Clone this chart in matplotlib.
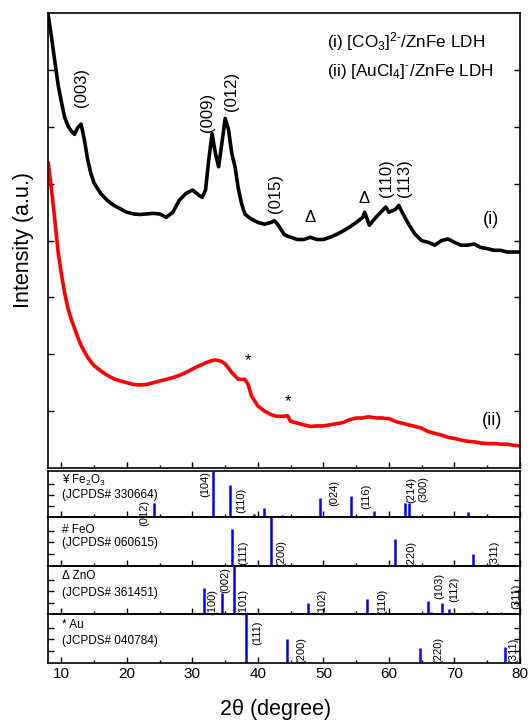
import numpy as np
import matplotlib
matplotlib.use("Agg")
import matplotlib.pyplot as plt
from matplotlib.ticker import MultipleLocator

plt.rcParams["font.family"] = ["Liberation Sans", "DejaVu Sans"]
plt.rcParams["mathtext.fontset"] = "custom"
plt.rcParams["mathtext.rm"] = "Liberation Sans"
plt.rcParams["mathtext.it"] = "Liberation Sans:italic"
plt.rcParams["mathtext.default"] = "regular"

# ---- XRD traces (2theta in degree, intensity in a.u.) ----
two_theta = [8.0, 8.5, 9.0, 9.5, 10.0, 10.5, 11.0, 11.5, 12.0, 12.5, 13.0, 13.5,
             14.0, 14.5, 15.0, 16, 17, 18, 19, 20, 21, 22, 23, 24, 25, 26, 27, 28,
             29, 30, 31, 31.5, 32, 32.5, 33, 33.5, 34, 34.5, 35, 35.5, 36, 36.5,
             37, 37.5, 38, 38.5, 39, 40, 41, 42, 42.5, 43, 44, 44.5, 45, 46, 47,
             48, 49, 50, 51, 52, 53, 54, 55, 56, 56.3, 57, 58, 59, 59.5, 60, 61,
             61.5, 62, 63, 64, 65, 66, 67, 68, 69, 70, 71, 72, 73, 74, 75, 76,
             77, 78, 79, 80]

ldh_co3 = [7.96, 7.57, 7.15, 6.74, 6.44, 6.17, 6.02, 5.93, 5.87, 5.99, 6.05, 5.78,
           5.43, 5.18, 5.01, 4.83, 4.71, 4.62, 4.56, 4.50, 4.47, 4.46, 4.47, 4.48,
           4.47, 4.41, 4.50, 4.71, 4.83, 4.89, 4.80, 4.76, 4.89, 5.43, 5.88, 5.54,
           5.30, 5.72, 6.15, 5.96, 5.54, 5.30, 4.92, 4.65, 4.47, 4.42, 4.38, 4.32,
           4.29, 4.32, 4.35, 4.29, 4.11, 4.08, 4.06, 4.02, 4.02, 4.06, 4.02, 4.02,
           4.06, 4.11, 4.17, 4.24, 4.32, 4.41, 4.50, 4.27, 4.41, 4.53, 4.59, 4.50,
           4.55, 4.62, 4.50, 4.29, 4.11, 4.00, 3.97, 3.92, 4.00, 4.03, 3.97, 3.92,
           3.92, 3.94, 3.88, 3.86, 3.83, 3.83, 3.80, 3.80, 3.80]

ldh_aucl4 = [5.36, 4.89, 4.36, 3.80, 3.41, 3.08, 2.81, 2.62, 2.46, 2.30, 2.16, 2.05,
             1.95, 1.87, 1.80, 1.71, 1.63, 1.57, 1.53, 1.50, 1.47, 1.46, 1.47, 1.50,
             1.53, 1.56, 1.59, 1.63, 1.68, 1.74, 1.80, 1.82, 1.85, 1.87, 1.89, 1.90,
             1.89, 1.87, 1.83, 1.76, 1.68, 1.62, 1.56, 1.56, 1.56, 1.47, 1.27, 1.09,
             1.00, 0.94, 0.92, 0.91, 0.91, 0.92, 0.82, 0.79, 0.76, 0.73, 0.74, 0.74,
             0.76, 0.78, 0.80, 0.85, 0.88, 0.88, 0.89, 0.90, 0.88, 0.88, 0.87, 0.87,
             0.82, 0.80, 0.79, 0.76, 0.73, 0.70, 0.64, 0.61, 0.58, 0.54, 0.52, 0.49,
             0.47, 0.46, 0.44, 0.43, 0.43, 0.42, 0.42, 0.40, 0.39]

# ---- reference stick patterns (position, relative height %) ----
fe2o3_pos = [24.1, 33.2, 35.7, 39.4, 40.9, 43.6, 49.5, 54.2, 57.7, 62.5, 63.0, 72.1]
fe2o3_int = [30, 100, 69, 5, 20, 4, 40, 45, 12, 30, 30, 11]
fe2o3_hkl = ["(012)", "(104)", "(110)", "(024)", "(116)", "(214)", "(300)"]
fe2o3_hkl_x = [22.6, 32.0, 37.5, 51.7, 56.5, 63.4, 65.2]
fe2o3_hkl_y = [8, 71, 36, 51, 45, 58, 61]

feo_pos = [36.1, 42.0, 60.9, 72.8]
feo_int = [75, 100, 56, 24]
feo_hkl = ["(111)", "(200)", "(220)", "(311)"]
feo_hkl_x = [37.7, 43.6, 63.4, 76.1]
feo_hkl_y = [27, 27, 25, 27]

zno_pos = [31.8, 34.5, 36.3, 47.6, 56.7, 65.9, 66.4, 68.1, 69.2, 72.7, 77.1]
zno_int = [54, 44, 100, 23, 31, 28, 5, 23, 11, 4, 5]
zno_hkl = ["(100)", "(002)", "(101)", "(102)", "(110)", "(103)", "(112)", "(311)"]
zno_hkl_x = [33.1, 35.0, 37.8, 49.8, 59.0, 67.6, 70.0, 79.5]
zno_hkl_y = [26, 72, 26, 26, 26, 58, 51, 37]

au_pos = [38.2, 44.4, 64.7, 77.7]
au_int = [100, 48, 30, 33]
au_hkl = ["(111)", "(200)", "(220)", "(311)"]
au_hkl_x = [39.9, 46.6, 67.5, 79.0]
au_hkl_y = [62, 26, 26, 26]

W, H = 531, 720
fig = plt.figure(figsize=(W / 100, H / 100), dpi=100)


def rect(top, bottom, left=48.3, right=520):
    return [left / W, 1 - bottom / H, (right - left) / W, (bottom - top) / H]


def style(ax, ymax, yt):
    ax.set_xlim(8, 80)
    ax.set_ylim(0, ymax)
    ax.xaxis.set_major_locator(MultipleLocator(10))
    ax.xaxis.set_minor_locator(MultipleLocator(5))
    ax.set_yticks(yt)
    ax.tick_params(which="both", direction="in", top=False, right=True,
                   left=True, bottom=True, width=1.0, labelleft=False)
    ax.tick_params(which="major", length=4)
    ax.tick_params(which="minor", length=2.5)
    ax.tick_params(axis="y", which="minor", left=False, right=False)
    for s in ax.spines.values():
        s.set_linewidth(1.2)


# main panel
ax = fig.add_axes(rect(13.3, 468))
style(ax, 8, range(1, 8))
ax.tick_params(labelbottom=False)
ax.plot(two_theta, ldh_co3, color="black", lw=2.6)
ax.plot(two_theta, ldh_aucl4, color="red", lw=2.6)

ax.text(50.5, 7.51, r"(i) [CO$_3$]$^{2\text{-}}$/ZnFe LDH", fontsize=12.3, va="center")
ax.text(50.5, 6.98, r"(ii) [AuCl$_4$]$^{\text{-}}$/ZnFe LDH", fontsize=12.3, va="center")

peak_lbl = ["(003)", "(009)", "(012)", "(015)", "(110)", "(113)"]
peak_x = [13.0, 32.3, 36.0, 42.7, 59.6, 62.4]
peak_y = [6.70, 6.26, 6.63, 4.83, 5.10, 5.10]
for t, x, y in zip(peak_lbl, peak_x, peak_y):
    ax.text(x, y, t, rotation=90, fontsize=12, ha="center", va="center")
ax.text(48.0, 4.41, "Δ", fontsize=12, ha="center", va="center")
ax.text(56.2, 4.75, "Δ", fontsize=12, ha="center", va="center")
ax.text(38.5, 1.89, "*", fontsize=12, ha="center", va="center")
ax.text(44.6, 1.16, "*", fontsize=12, ha="center", va="center")
ax.text(75.6, 4.38, "(i)", fontsize=13, ha="center", va="center")
ax.text(75.8, 0.84, "(ii)", fontsize=13, ha="center", va="center")

panels = [
    (470.7, 516.7, "¥ Fe$_2$O$_3$", "(JCPDS# 330664)", 78, 47,
     fe2o3_pos, fe2o3_int, fe2o3_hkl, fe2o3_hkl_x, fe2o3_hkl_y),
    (516.7, 566.3, "# FeO", "(JCPDS# 060615)", 73, 46,
     feo_pos, feo_int, feo_hkl, feo_hkl_x, feo_hkl_y),
    (566.3, 614.0, "Δ ZnO", "(JCPDS# 361451)", 79, 45,
     zno_pos, zno_int, zno_hkl, zno_hkl_x, zno_hkl_y),
    (614.0, 662.7, "* Au", "(JCPDS# 040784)", 77, 45,
     au_pos, au_int, au_hkl, au_hkl_x, au_hkl_y),
]

for i, (top, bot, name, card, ny, cy, pos, inten, hkl, hx, hy) in enumerate(panels):
    a = fig.add_axes(rect(top, bot))
    a.set_facecolor("none")
    a.set_zorder(10 - i)
    style(a, 100, [24, 48, 72])
    a.vlines(pos, 0, inten, color="#0000FF", lw=1.8)
    a.text(10.15, ny, name, fontsize=8.5, va="center")
    a.text(10.15, cy, card, fontsize=8.5, va="center")
    for t, x, y in zip(hkl, hx, hy):
        a.text(x, y, t, rotation=90, fontsize=8, ha="center", va="center")
    if i < 3:
        a.tick_params(labelbottom=False)
    else:
        a.tick_params(labelbottom=True, labelsize=11, pad=3)

fig.text(24 / W, 1 - 240 / H, "Intensity (a.u.)", rotation=90, fontsize=15.5,
         ha="center", va="center")
fig.text(276 / W, 1 - 709 / H, "2θ (degree)", fontsize=15.5, ha="center", va="center")

fig.savefig("out.png", dpi=100)
